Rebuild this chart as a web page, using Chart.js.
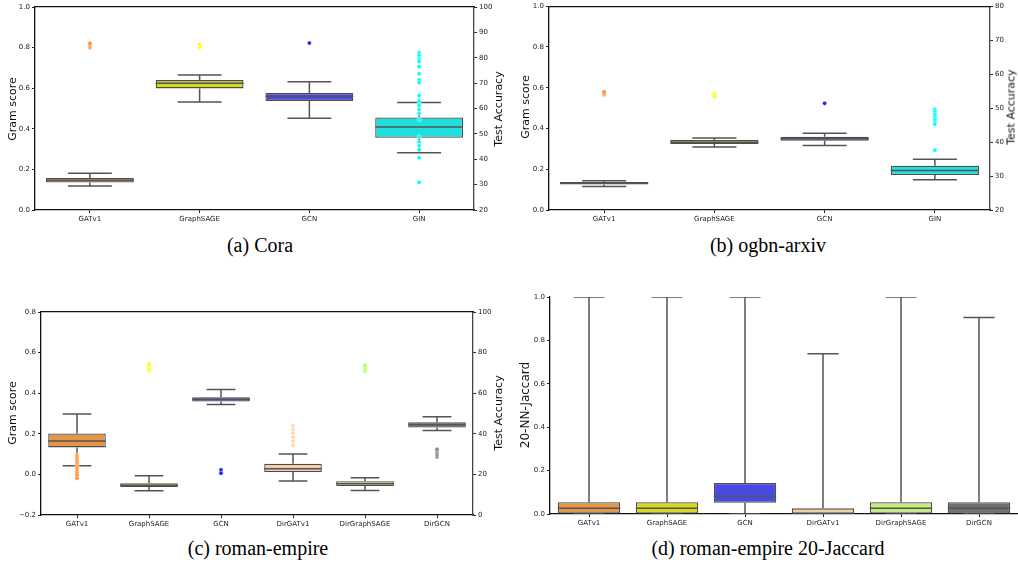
<!DOCTYPE html>
<html>
<head>
<meta charset="utf-8">
<script src="https://cdn.jsdelivr.net/npm/chart.js@4.4.1/dist/chart.umd.min.js"></script>
<style>
  body { margin: 0; background: #fff; width: 1018px; height: 567px; position: relative; overflow: hidden; }
  canvas { position: absolute; }
  .cap { position: absolute; font-family: "Liberation Serif", "DejaVu Serif", serif; font-size: 20px;
         line-height: 24px; color: #000; transform: translateX(-50%); white-space: nowrap; }
  .atitle { position: absolute; font-family: "DejaVu Sans", sans-serif; font-size: 11px; line-height: 13px;
            color: #111; white-space: nowrap; transform: translate(-50%, -50%) rotate(-90deg); }
</style>
</head>
<body>
<canvas id="cora" width="509" height="232" style="left:0;top:0"></canvas>
<canvas id="arxiv" width="509" height="232" style="left:509px;top:0"></canvas>
<canvas id="roman" width="509" height="232" style="left:0;top:300px"></canvas>
<canvas id="jaccard" width="509" height="245" style="left:509px;top:285px"></canvas>
<div class="atitle" style="left:12px;top:109px">Gram score</div>
<div class="atitle" style="left:498px;top:109px">Test Accuracy</div>
<div class="atitle" style="left:525px;top:107px">Gram score</div>
<div class="atitle" style="left:1011px;top:107px">Test Accuracy</div>
<div class="atitle" style="left:12px;top:413px">Gram score</div>
<div class="atitle" style="left:498px;top:413px">Test Accuracy</div>
<div class="atitle" style="left:525px;top:405px;font-size:12px">20-NN-Jaccard</div>
<div class="cap" style="left:260px;top:233px">(a) Cora</div>
<div class="cap" style="left:768px;top:233px">(b) ogbn-arxiv</div>
<div class="cap" style="left:258px;top:536px">(c) roman-empire</div>
<div class="cap" style="left:768px;top:536px">(d) roman-empire 20-Jaccard</div>

<script>
// each box: [lower whisker, q1, median, q3, upper whisker]
const coraModels = ['GATv1', 'GraphSAGE', 'GCN', 'GIN'];
const coraGram = [
  [0.118, 0.135, 0.146, 0.158, 0.181],
  [0.532, 0.599, 0.624, 0.640, 0.665],
  [0.452, 0.537, 0.560, 0.576, 0.632],
  [0.282, 0.356, 0.409, 0.456, 0.530]
];
const coraAcc = [
  [84.0, 84.6, 85.2, 85.7],
  [84.1, 85.2],
  [85.8],
  [81.9, 80.9, 79.5, 78.6, 76.5, 73.7, 71.2, 70.2, 65.1, 63.1, 62.6, 61.3, 59.6, 58.0, 55.7, 48.8, 46.7, 45.4, 43.8, 40.6, 30.9]
];

const arxivModels = ['GATv1', 'GraphSAGE', 'GCN', 'GIN'];
const arxivGram = [
  [0.115, 0.125, 0.131, 0.138, 0.144],
  [0.309, 0.324, 0.333, 0.343, 0.353],
  [0.317, 0.340, 0.350, 0.359, 0.377],
  [0.149, 0.172, 0.194, 0.217, 0.249]
];
const arxivAcc = [
  [53.9, 54.3, 54.8],
  [53.5, 54.3],
  [51.4],
  [49.6, 48.9, 48.2, 47.4, 46.7, 45.9, 45.3, 37.6]
];

const romanModels = ['GATv1', 'GraphSAGE', 'GCN', 'DirGATv1', 'DirGraphSAGE', 'DirGCN'];
const romanGram = [
  [0.043, 0.133, 0.164, 0.202, 0.298],
  [-0.080, -0.062, -0.053, -0.043, -0.007],
  [0.344, 0.359, 0.370, 0.380, 0.418],
  [-0.033, 0.012, 0.028, 0.053, 0.100],
  [-0.079, -0.057, -0.046, -0.034, -0.016],
  [0.216, 0.231, 0.246, 0.257, 0.284]
];
const romanAcc = [
  [29.6, 28.7, 27.7, 26.7, 25.8, 24.8, 23.8, 22.7, 21.5, 20.5, 19.4, 18.1],
  [71.2, 72.0, 72.8, 73.6, 74.4],
  [22.2, 20.6],
  [44.0, 42.2, 40.2, 38.3, 36.3, 34.3],
  [70.8, 71.8, 72.8, 73.8],
  [28.6, 29.6, 30.6, 31.6, 32.4]
];

const jaccardModels = ['GATv1', 'GraphSAGE', 'GCN', 'DirGATv1', 'DirGraphSAGE', 'DirGCN'];
const jaccardVals = [
  [0, 0, 0.026, 0.054, 1.0],
  [0, 0, 0.026, 0.054, 1.0],
  [0, 0.052, 0.082, 0.143, 1.0],
  [0, 0, 0, 0.026, 0.738],
  [0, 0, 0.026, 0.054, 1.0],
  [0, 0, 0.026, 0.054, 0.905]
];

const boxColors = {
  GATv1: '#e5954a', GraphSAGE: '#d8d81f', GCN: '#4848e3', GIN: '#20dfdf',
  DirGATv1: '#f2cfa4', DirGraphSAGE: '#c5ec80', DirGCN: '#707070'
};
const dotColors = {
  GATv1: '#ff9030', GraphSAGE: '#ffff10', GCN: '#2020ff', GIN: '#00ffff',
  DirGATv1: '#ffd9aa', DirGraphSAGE: '#b8ff5a', DirGCN: '#888888'
};

const lineCol = '#545454';
const tickFont = { family: 'DejaVu Sans', size: 7 };

function fmt1(v) {
  if (Math.abs(v) < 1e-9) v = 0;
  return v.toFixed(1).replace('-', '\u2212');
}

function buildDatasets(models, stats, acc) {
  const boxes = [], whiskers = [], medians = [], dots = [], dotCols = [];
  stats.forEach((s, i) => {
    const [lo, q1, med, q3, hi] = s;
    boxes.push({ x: i, y: [q1, q3] });
    whiskers.push(
      { x: i, y: q3 }, { x: i, y: hi }, { x: i, y: null },
      { x: i - 0.2, y: hi }, { x: i + 0.2, y: hi }, { x: i, y: null },
      { x: i, y: q1 }, { x: i, y: lo }, { x: i, y: null },
      { x: i - 0.2, y: lo }, { x: i + 0.2, y: lo }, { x: i, y: null }
    );
    medians.push({ x: i - 0.4, y: med }, { x: i + 0.4, y: med }, { x: i, y: null });
    if (acc) {
      acc[i].forEach(a => {
        dots.push({ x: i, y: a });
        dotCols.push(dotColors[models[i]]);
      });
    }
  });
  const ds = [
    {
      type: 'bar', data: boxes, order: 3,
      backgroundColor: models.map(m => boxColors[m]),
      borderColor: '#4d4d4d', borderWidth: 1.3, borderSkipped: false,
      barPercentage: 0.8, categoryPercentage: 1
    },
    {
      type: 'line', data: whiskers, order: 2, borderColor: lineCol, borderWidth: 1.5,
      pointRadius: 0, spanGaps: false
    },
    {
      type: 'line', data: medians, order: 1, borderColor: lineCol, borderWidth: 1.5,
      pointRadius: 0, spanGaps: false
    }
  ];
  if (acc) {
    ds.push({
      type: 'line', data: dots, order: 0, yAxisID: 'y2', showLine: false,
      pointRadius: 2.1, pointBackgroundColor: dotCols,
      pointBorderColor: 'rgba(255,255,255,0.7)', pointBorderWidth: 0.6
    });
  }
  return ds;
}

function makeChart(id, models, stats, acc, o) {
  const n = models.length;
  const scales = {
    x: {
      type: 'linear', min: -0.5, max: n - 0.5, bounds: 'data', offset: false,
      afterBuildTicks: s => { s.ticks = models.map((m, i) => ({ value: i })); },
      ticks: { callback: v => models[v], font: tickFont, color: '#222', padding: 2, maxRotation: 0, autoSkip: false },
      grid: { drawOnChartArea: false, offset: false, tickLength: 3, tickColor: '#222' },
      border: { color: '#111', width: 1.3 },
      afterFit: s => { s.height = o.xh; }
    },
    y: {
      min: o.ymin, max: o.ymax,
      ticks: { stepSize: 0.2, callback: v => fmt1(v), font: tickFont, color: '#222', padding: 2 },
      grid: { drawOnChartArea: false, tickLength: 3, tickColor: '#222' },
      border: { color: '#111', width: 1.3 },
      afterFit: s => { s.width = o.yw; }
    }
  };
  if (o.y2) {
    scales.y2 = {
      position: 'right', min: o.y2.min, max: o.y2.max,
      ticks: { stepSize: o.y2.step, font: tickFont, color: '#222', padding: 2 },
      grid: { drawOnChartArea: false, tickLength: 3, tickColor: '#222' },
      border: { color: '#444', width: 1.3 },
      afterFit: s => { s.width = o.y2.w; }
    };
    scales.x2 = {
      type: 'linear', position: 'top', min: -0.5, max: n - 0.5, offset: false,
      ticks: { display: false },
      grid: { display: false, drawTicks: false },
      border: { display: true, color: '#111', width: 1.3 },
      afterFit: s => { s.height = 0; }
    };
  }
  return new Chart(document.getElementById(id), {
    type: 'bar',
    data: { datasets: buildDatasets(models, stats, acc) },
    options: {
      responsive: false,
      animation: false,
      events: [],
      layout: { padding: { top: o.top, left: 0, right: 0, bottom: 0 } },
      plugins: { legend: { display: false }, tooltip: { enabled: false } },
      scales: scales
    }
  });
}

makeChart('cora', coraModels, coraGram, coraAcc, {
  top: 7, xh: 22, yw: 35, ymin: 0, ymax: 1,
  y2: { min: 20, max: 100, step: 10, w: 35 }
});
makeChart('arxiv', arxivModels, arxivGram, arxivAcc, {
  top: 4, xh: 22, yw: 40, ymin: 0, ymax: 1,
  y2: { min: 20, max: 80, step: 10, w: 28 }
});
makeChart('roman', romanModels, romanGram, romanAcc, {
  top: 12, xh: 17, yw: 41, ymin: -0.2, ymax: 0.8,
  y2: { min: 0, max: 100, step: 20, w: 36 }
});
makeChart('jaccard', jaccardModels, jaccardVals, null, {
  top: 12, xh: 16, yw: 41, ymin: 0, ymax: 1
});
</script>
</body>
</html>
